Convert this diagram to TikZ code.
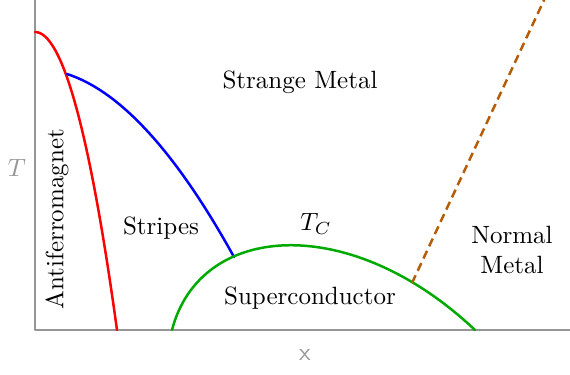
\documentclass[tikz,border=0pt]{standalone}
\usepackage{amsmath}
\usepackage{tikz}
\usetikzlibrary{calc}
\definecolor{axisgray}{RGB}{150,150,150}
\definecolor{scgreen}{RGB}{0,170,0}
\definecolor{crossbrown}{RGB}{180,92,6}
\begin{document}
\begin{tikzpicture}[x=0.4pt,y=-0.4pt,line cap=round,line join=round]
  \useasboundingbox (0,0) rectangle (570,374);
  \tikzset{phase/.style={line width=1pt},
    region/.style={inner sep=0pt,font=\normalsize}}

  % axes
  \draw[axisgray,line width=0.6pt,line cap=butt] (35,0) -- (35,330) -- (570,330);
  \node[region,text=axisgray] (tlabel) at (17,168) {$T$};
  \node[region,text=axisgray,font=\sffamily] (xlabel) at (305,355) {x};

  % junctions
  \coordinate (afmtop) at (35,32);
  \coordinate (afmstripe) at (67,74);
  \coordinate (afmend) at (117,330);
  \coordinate (stripesc) at (234,257);
  \coordinate (scstart) at (172,330);
  \coordinate (scend) at (475,330);
  \coordinate (crossfoot) at (412,283);
  \coordinate (crosstop) at (545,-2);

  % curves
  \draw[phase,red] (afmtop) .. controls (62.3,32) and (89.7,131.3) .. (afmend);
  \draw[phase,blue] (afmstripe) .. controls (120,91) and (176,152) .. (stripesc);
  \draw[phase,scgreen] (scstart) .. controls (200,222) and (350,212) .. (scend);
  \draw[crossbrown,line width=1pt,dash pattern=on 3.4pt off 2pt,line cap=butt]
    (crossfoot) -- (crosstop);

  % labels
  \node[region] (strange) at (300,82) {Strange Metal};
  \node[region] (stripes) at (161,228) {Stripes};
  \node[region] (tc) at (316,224) {$T_C$};
  \node[region] (sc) at (310,298) {Superconductor};
  \node[region,align=center] (normal) at (512,250) {Normal\\Metal};
  \node[region,rotate=90] (afm) at (57,219) {Antiferromagnet};
\end{tikzpicture}
\end{document}
